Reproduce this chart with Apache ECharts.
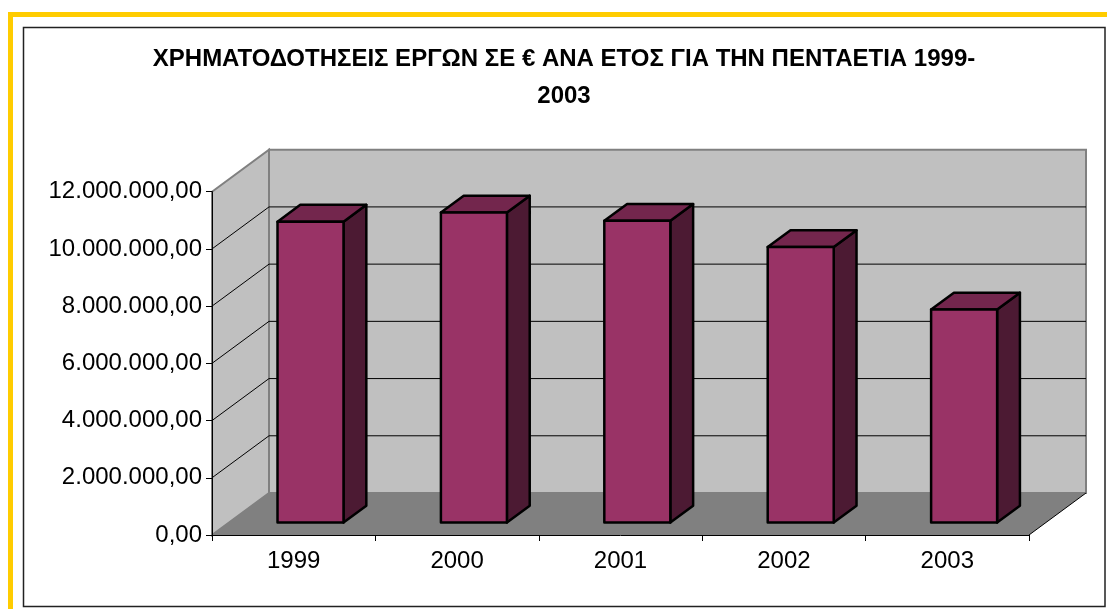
<!DOCTYPE html>
<html>
<head>
<meta charset="utf-8">
<script src="https://cdn.jsdelivr.net/npm/echarts@6/dist/echarts.min.js"></script>
<style>
html,body{margin:0;padding:0;background:#fff;}
#chart{width:1107px;height:609px;}
</style>
</head>
<body>
<div id="chart"></div>
<script>
// ---- data ----
const titleText = 'ΧΡΗΜΑΤΟΔΟΤΗΣΕΙΣ ΕΡΓΩΝ ΣΕ € ΑΝΑ ΕΤΟΣ ΓΙΑ ΤΗΝ ΠΕΝΤΑΕΤΙΑ 1999-\n2003';
const categories = ['1999', '2000', '2001', '2002', '2003'];
const values = [10520000, 10840000, 10550000, 9630000, 7450000];
const yTickValues = [0, 2000000, 4000000, 6000000, 8000000, 10000000, 12000000];
const yTickLabels = ['0,00', '2.000.000,00', '4.000.000,00', '6.000.000,00', '8.000.000,00', '10.000.000,00', '12.000.000,00'];

// ---- style constants ----
const FONT = "'Liberation Sans', Arial, sans-serif";
const DX = 57, DY = 42;          // depth of the 3D box
const BAR_FRONT = 0.295;         // depth position of bar front face
const BAR_DEPTH = 0.40;          // bar depth fraction
const BAR_WIDTH = 0.404;         // bar width fraction of band

const chart = echarts.init(document.getElementById('chart'));

function wallsRender(params, api) {
  const cs = params.coordSys;
  const x0 = cs.x, x1 = cs.x + cs.width;
  const yTop = cs.y, yBot = cs.y + cs.height;
  const children = [];
  children.push({type: 'polygon', shape: {points: [[x0 + DX, yTop - DY], [x1 + DX, yTop - DY], [x1 + DX, yBot - DY], [x0 + DX, yBot - DY]]},
    style: {fill: '#C0C0C0', stroke: '#808080', lineWidth: 2}});
  children.push({type: 'polygon', shape: {points: [[x0, yTop], [x0 + DX, yTop - DY], [x0 + DX, yBot - DY], [x0, yBot]]},
    style: {fill: '#C0C0C0', stroke: '#808080', lineWidth: 2}});
  children.push({type: 'polygon', shape: {points: [[x0, yBot], [x0 + DX, yBot - DY], [x1 + DX, yBot - DY], [x1, yBot]]},
    style: {fill: '#808080', stroke: null}});
  children.push({type: 'line', shape: {x1: x1, y1: yBot, x2: x1 + DX, y2: yBot - DY},
    style: {stroke: '#000', lineWidth: 1}});
  for (let i = 1; i < yTickValues.length - 1; i++) {
    const y = api.coord([0, yTickValues[i]])[1];
    children.push({type: 'polyline', shape: {points: [[x0, y], [x0 + DX, y - DY], [x1 + DX, y - DY]]},
      style: {stroke: '#000', lineWidth: 1, fill: null}});
  }
  return {type: 'group', children: children};
}

function barRender(params, api) {
  const idx = api.value(0);
  const val = api.value(1);
  const p0 = api.coord([idx, 0]);
  const p1 = api.coord([idx, val]);
  const band = api.size([1, 0])[0];
  const w = band * BAR_WIDTH;
  const fx = BAR_FRONT * DX, fy = BAR_FRONT * DY;
  const bx = BAR_DEPTH * DX, by = BAR_DEPTH * DY;
  const xl = p0[0] - w / 2 + fx, xr = xl + w;
  const yb = p0[1] - fy, yt = p1[1] - fy;
  const st = {stroke: '#000', lineWidth: 2.5, lineJoin: 'round'};
  return {type: 'group', children: [
    {type: 'polygon', shape: {points: [[xr, yt], [xr + bx, yt - by], [xr + bx, yb - by], [xr, yb]]},
      style: Object.assign({fill: '#4C1A33'}, st)},
    {type: 'polygon', shape: {points: [[xl, yt], [xr, yt], [xr + bx, yt - by], [xl + bx, yt - by]]},
      style: Object.assign({fill: '#73264D'}, st)},
    {type: 'rect', shape: {x: xl, y: yt, width: w, height: yb - yt},
      style: Object.assign({fill: '#993366'}, st)}
  ]};
}

const option = {
  backgroundColor: '#ffffff',
  animation: false,
  title: {
    text: titleText,
    left: 564,
    top: 41,
    textAlign: 'center',
    padding: 0,
    textStyle: {fontFamily: FONT, fontSize: 24, fontWeight: 'bold', color: '#000', lineHeight: 37}
  },
  graphic: [
    {type: 'rect', shape: {x: 10.5, y: 14.5, width: 1300, height: 800}, style: {fill: null, stroke: '#FFCC00', lineWidth: 5}, z: 100},
    {type: 'rect', shape: {x: 23.5, y: 27.5, width: 1081.5, height: 579}, style: {fill: null, stroke: '#222', lineWidth: 1.5}, z: 100}
  ],
  grid: {left: 212, right: 78, top: 191.7, bottom: 74, containLabel: false},
  xAxis: {
    type: 'category',
    data: categories,
    z: 10,
    axisLine: {show: true, lineStyle: {color: '#000', width: 1}},
    axisTick: {show: true, length: 6, lineStyle: {color: '#000'}},
    axisLabel: {interval: 0, margin: 14, fontFamily: FONT, fontSize: 24, color: '#000'},
    splitLine: {show: false}
  },
  yAxis: {
    type: 'value',
    min: 0, max: 12000000, interval: 2000000,
    z: 10,
    axisLine: {show: true, lineStyle: {color: '#000', width: 1}},
    axisTick: {show: true, length: 6, lineStyle: {color: '#000'}},
    axisLabel: {margin: 10, fontFamily: FONT, fontSize: 24, color: '#000',
      formatter: function (v) { const i = yTickValues.indexOf(v); return i >= 0 ? yTickLabels[i] : ''; }},
    splitLine: {show: false}
  },
  series: [
    {type: 'custom', name: 'walls', silent: true, z: 1, data: [[0, 0]], encode: {x: 0, y: 1}, renderItem: wallsRender},
    {type: 'custom', name: 'bars', z: 3, data: values.map(function (v, i) { return [i, v]; }), encode: {x: 0, y: 1}, renderItem: barRender}
  ]
};
chart.setOption(option);
</script>
</body>
</html>
